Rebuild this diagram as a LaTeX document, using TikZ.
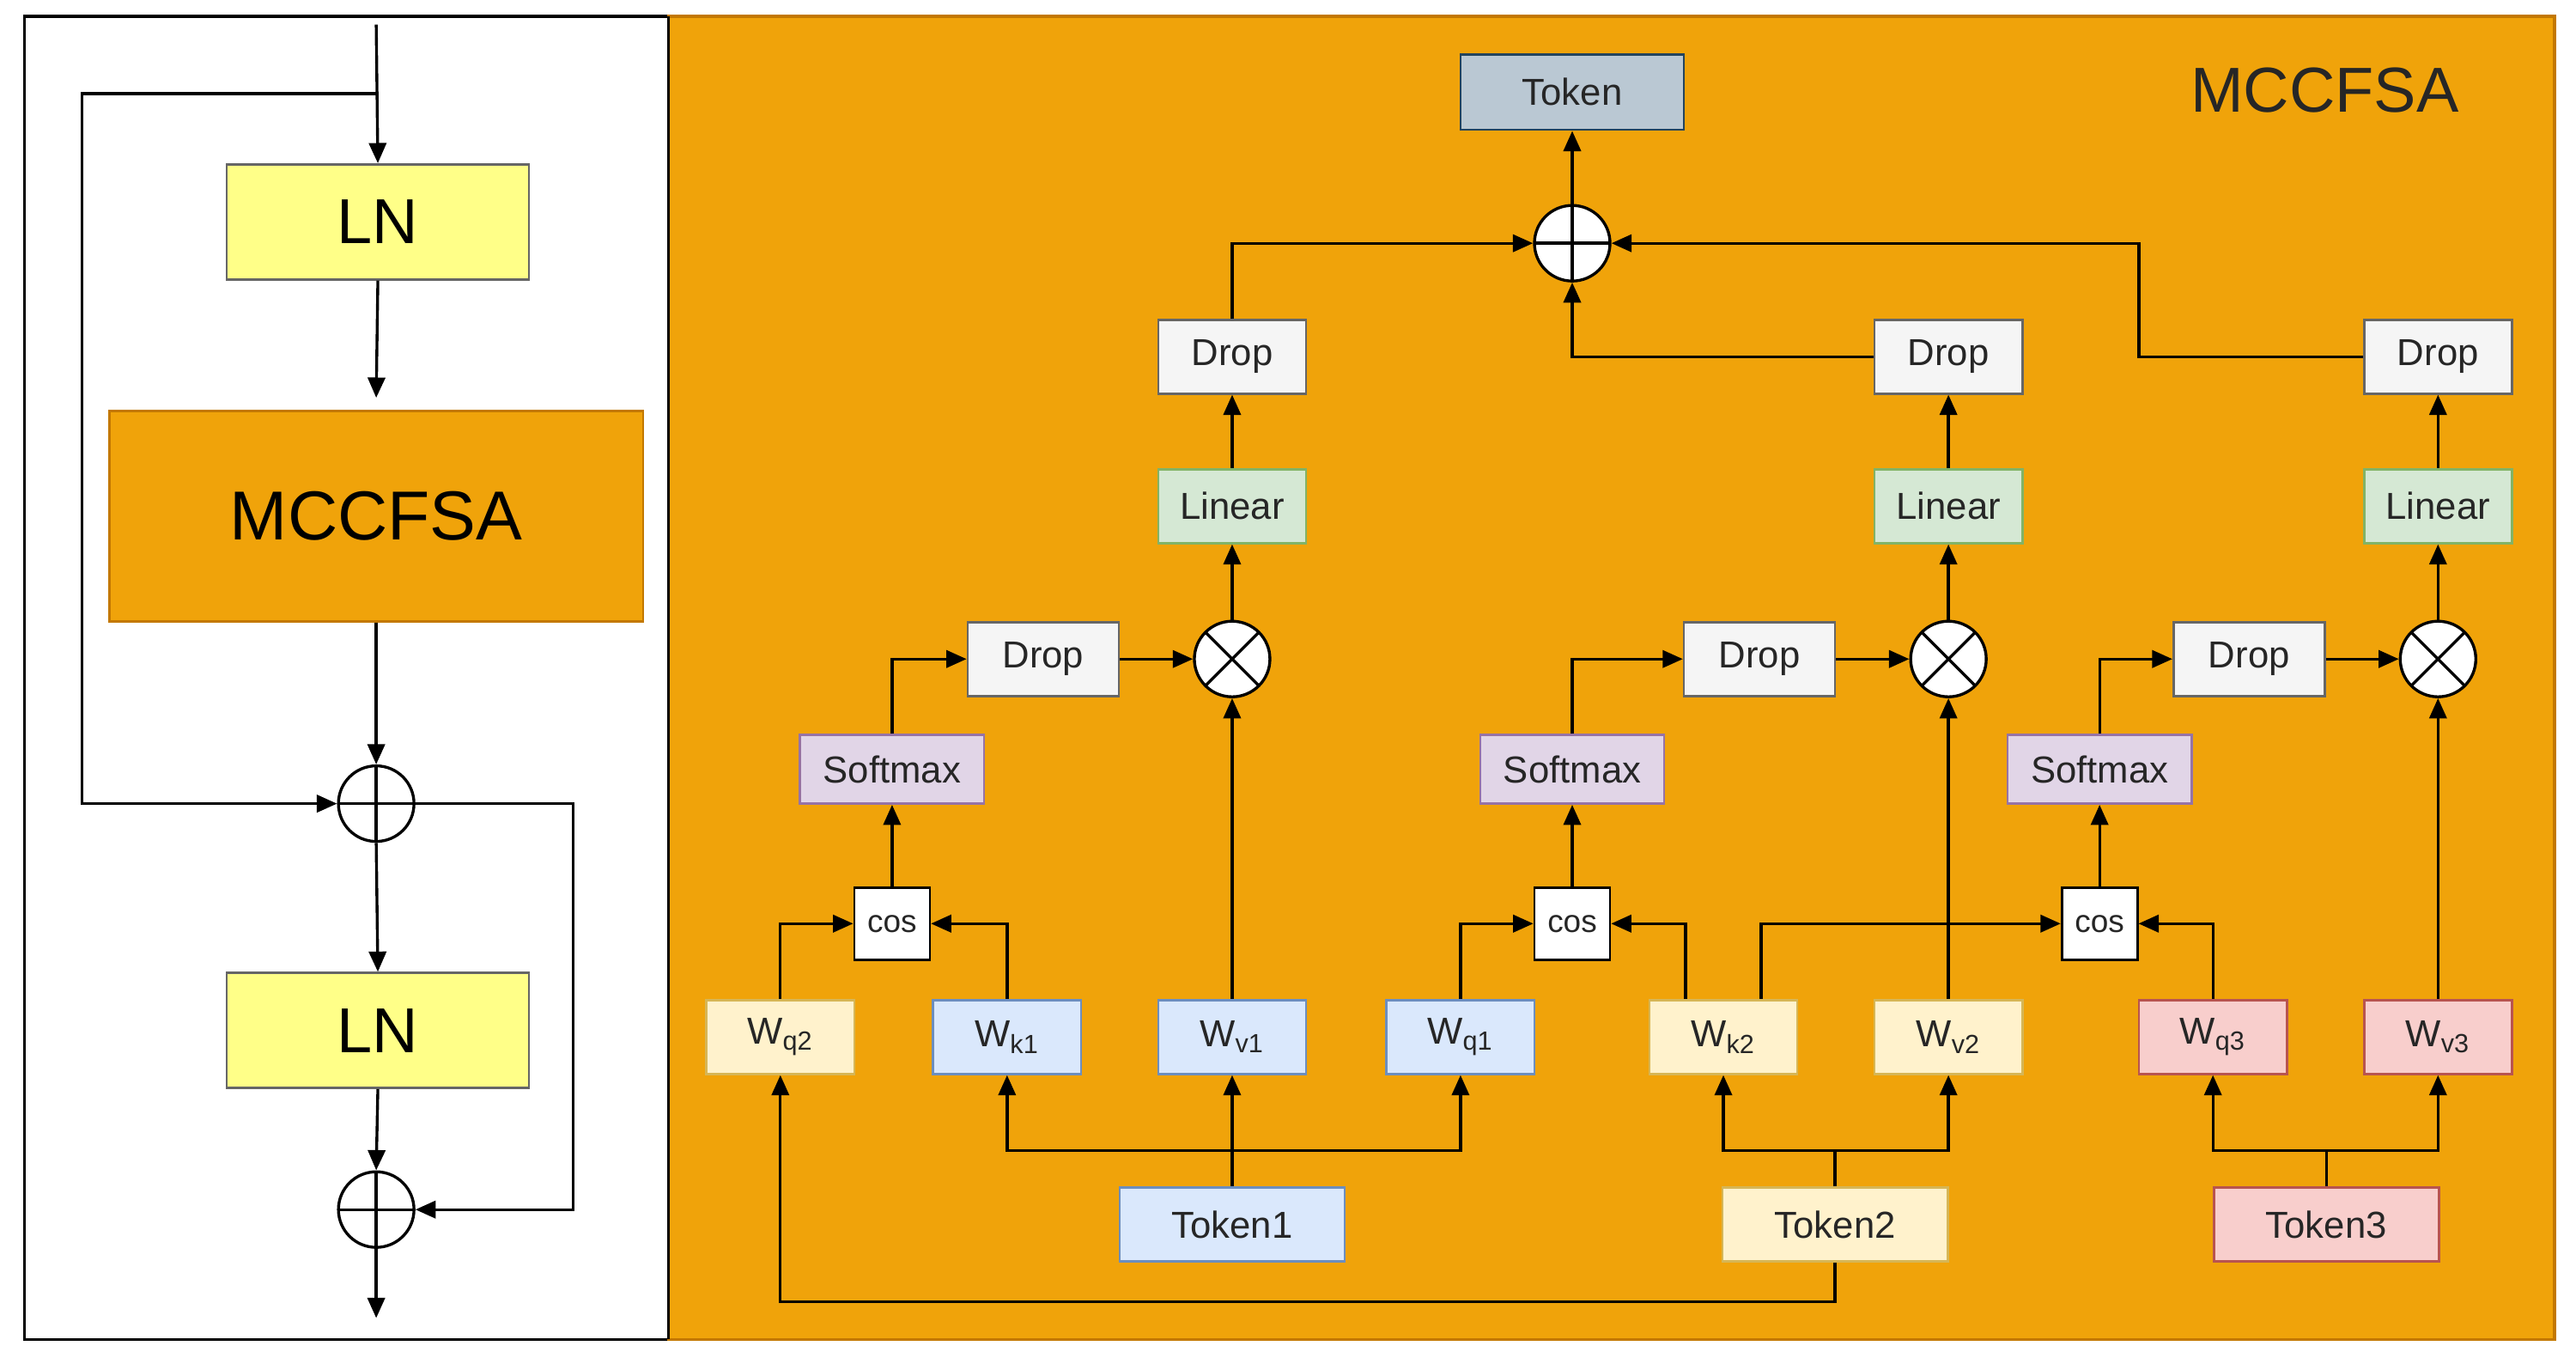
\documentclass[tikz,border=0pt]{standalone}
\usepackage{fontspec}
\setmainfont{Liberation Sans}
\usetikzlibrary{arrows.meta,calc}
\definecolor{org}{HTML}{F0A30A}
\definecolor{orgb}{HTML}{C37800}
\definecolor{yel}{HTML}{FFFF88}
\definecolor{bY}{HTML}{FFF2CC}\definecolor{bYb}{HTML}{D6B656}
\definecolor{bB}{HTML}{DAE8FC}\definecolor{bBb}{HTML}{6C8EBF}
\definecolor{bR}{HTML}{F8CECC}\definecolor{bRb}{HTML}{B85450}
\definecolor{bG}{HTML}{D5E8D4}\definecolor{bGb}{HTML}{82B366}
\definecolor{bP}{HTML}{E1D5E7}\definecolor{bPb}{HTML}{9673A6}
\definecolor{bT}{HTML}{BAC8D3}\definecolor{bTb}{HTML}{23445D}
\definecolor{bW}{HTML}{F5F5F5}\definecolor{bWb}{HTML}{666666}
\begin{document}
\begin{tikzpicture}[x=0.02cm,y=-0.02cm,
 arr/.style={-{Triangle[length=7pt,width=6pt]},line width=1pt},
 ln/.style={line width=1pt},
 box/.style={draw,line width=0.8pt,inner sep=0pt,font=\fontsize{13}{15}\selectfont,text=black!85},
 bx/.style={box,minimum width=1.8cm,minimum height=0.9cm},
 drop/.style={bx,fill=bW,draw=bWb},
 lin/.style={bx,fill=bG,draw=bGb},
 soft/.style={box,fill=bP,draw=bPb,minimum width=2.24cm,minimum height=0.84cm},
 cosb/.style={box,fill=white,draw=black,minimum width=0.92cm,minimum height=0.88cm,font=\fontsize{11}{13}\selectfont},
 wY/.style={bx,fill=bY,draw=bYb},
 wB/.style={bx,fill=bB,draw=bBb},
 wR/.style={bx,fill=bR,draw=bRb},
 tok/.style={box,minimum width=2.74cm,minimum height=0.9cm},
 plus/.style={circle,draw,line width=1pt,minimum size=0.92cm,inner sep=0pt,path picture={
   \draw[line width=1pt] (path picture bounding box.north)--(path picture bounding box.south)
   (path picture bounding box.west)--(path picture bounding box.east);}},
 times/.style={circle,draw,line width=1pt,fill=white,minimum size=0.92cm,inner sep=0pt,path picture={
   \draw[line width=1pt] (path picture bounding box.north west)--(path picture bounding box.south east)
   (path picture bounding box.south west)--(path picture bounding box.north east);}},
 lnb/.style={draw=black!60,fill=yel,line width=0.8pt,minimum width=3.68cm,minimum height=1.4cm,font=\fontsize{22}{24}\selectfont}
]
\useasboundingbox (0,0) rectangle (1568,826);
% panels
\draw[line width=1pt,fill=white] (15,10) rectangle (407,815);
\fill[org] (407,10) rectangle (1555,815);
\draw[orgb,line width=1pt] (407,10) rectangle (1555,815);
\draw[black,line width=1pt] (407,10) -- (407,815);
% left panel
\node[lnb] (ln1) at (230,135) {LN};
\node[draw=orgb,fill=org,line width=0.8pt,minimum width=6.5cm,minimum height=2.56cm,font=\fontsize{24}{26}\selectfont] (mc) at (229,314) {MCCFSA};
\node[plus] (p1) at (229,489) {};
\node[lnb] (ln2) at (230,627) {LN};
\node[plus] (p2) at (229,736) {};
\coordinate (top) at (229,15);
\coordinate (bot) at (229,802);
\draw[arr] (top) -- (ln1.north);
\draw[arr] (229,57) -- (50,57) -- (50,489) -- (p1.west);
\draw[arr] (ln1.south) -- (229,242);
\draw[arr] (mc.south) -- (p1.north);
\draw[arr] (p1.south) -- (ln2.north);
\draw[arr] (ln2.south) -- (p2.north);
\draw[arr] (p1.east) -- (349,489) -- (349,736) -- (p2.east);
\draw[arr] (p2.south) -- (bot);
% right panel
\node[box,fill=bT,draw=bTb,minimum width=2.72cm,minimum height=0.92cm] (tk) at (957,56) {Token};
\node[font=\fontsize{22}{24}\selectfont,text=black!85] (lab) at (1415,55) {MCCFSA};
\node[plus,fill=white] (sum) at (957,148) {};
\draw[arr] (sum.north) -- (tk.south);
\node[drop] (d1) at (750,217) {Drop};
\node[drop] (d2) at (1186,217) {Drop};
\node[drop] (d3) at (1484,217) {Drop};
\draw[arr] (d1.north) |- (sum.west);
\draw[arr] (d2.west) -| (sum.south);
\coordinate (c3) at (1302,148);
\draw[arr] (d3.west) -| (c3) -- (sum.east);
\foreach \i/\x/\dx/\sx in {1/750/635/543,2/1186/1071/957,3/1484/1369/1278}{
 \node[lin] (l\i) at (\x,308) {Linear};
 \node[times] (m\i) at (\x,401) {};
 \node[drop,minimum width=1.84cm] (e\i) at (\dx,401) {Drop};
 \node[soft] (s\i) at (\sx,468) {Softmax};
 \node[cosb] (c\i) at (\sx,562) {cos};
 \draw[arr] (l\i.north) -- (d\i.south);
 \draw[arr] (m\i.north) -- (l\i.south);
 \draw[arr] (e\i.east) -- (m\i.west);
 \draw[arr] (s\i.north) |- (e\i.west);
 \draw[arr] (c\i.north) -- (s\i.south);
}
\node[wY] (wq2) at (475,631) {W\textsubscript{q2}};
\node[wB] (wk1) at (613,631) {W\textsubscript{k1}};
\node[wB] (wv1) at (750,631) {W\textsubscript{v1}};
\node[wB] (wq1) at (889,631) {W\textsubscript{q1}};
\node[wY] (wk2) at (1049,631) {W\textsubscript{k2}};
\node[wY] (wv2) at (1186,631) {W\textsubscript{v2}};
\node[wR] (wq3) at (1347,631) {W\textsubscript{q3}};
\node[wR] (wv3) at (1484,631) {W\textsubscript{v3}};
\draw[arr] (wq2.north) |- (c1.west);
\draw[arr] (wk1.north) |- (c1.east);
\draw[arr] (wq1.north) |- (c2.west);
\draw[arr] ($(wk2.north)+(-23,0)$) |- (c2.east);
\draw[arr] ($(wk2.north)+(23,0)$) |- (c3.west);
\draw[arr] (wq3.north) |- (c3.east);
\draw[arr] (wv1.north) -- (m1.south);
\draw[arr] (wv2.north) -- (m2.south);
\draw[arr] (wv3.north) -- (m3.south);
\node[tok,fill=bB,draw=bBb] (t1) at (750,745) {Token1};
\node[tok,fill=bY,draw=bYb] (t2) at (1117,745) {Token2};
\node[tok,fill=bR,draw=bRb] (t3) at (1416,745) {Token3};
\coordinate (j1) at (750,700);
\coordinate (j2) at (1117,700);
\coordinate (j3) at (1416,700);
\draw[arr] (t1.north) -- (wv1.south);
\draw[arr] (j1) -| (wk1.south);
\draw[arr] (j1) -| (wq1.south);
\draw[ln] (t2.north) -- (j2);
\draw[arr] (j2) -| (wk2.south);
\draw[arr] (j2) -| (wv2.south);
\draw[ln] (t3.north) -- (j3);
\draw[arr] (j3) -| (wq3.south);
\draw[arr] (j3) -| (wv3.south);
\coordinate (b2) at (1117,792);
\draw[arr] (t2.south) -- (b2) -| (wq2.south);
\end{tikzpicture}
\end{document}
